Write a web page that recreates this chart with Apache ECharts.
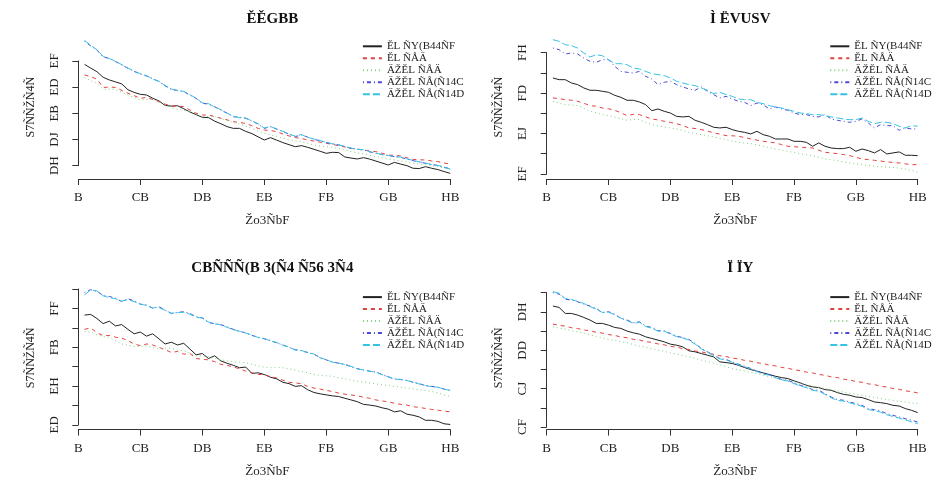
<!DOCTYPE html>
<html>
<head>
<meta charset="utf-8">
<script src="https://cdn.jsdelivr.net/npm/echarts@6/dist/echarts.min.js"></script>
<style>
  html, body { margin: 0; background: #fff; }
  #chart-container { width: 938px; height: 482px; }
</style>
</head>
<body>
<div id="chart-container"></div>
<script>
// text as it appears in the reference picture
const panelTitles = ['ĚĚGBB', 'Ì ËVUSV', 'CBÑÑÑ(B 3(Ñ4 Ñ56 3Ñ4', 'Ï ÏY'];
const legendNames = ['ĚL ÑY(B44ÑF', 'ĚL ÑÅÄ', 'ÄŽĚL ÑÅÄ', 'ÄŽĚL ÑÅ(Ñ14C', 'ÄŽĚL ÑÅ(Ñ14D'];
const xAxisTitle = 'Žo3ÑbF';
const yAxisTitle = 'S7ÑÑŽÑ4Ñ';

const xTickLabels = ['B', 'CB', 'DB', 'EB', 'FB', 'GB', 'HB'];
const p1TickLabels = ['DH', 'DJ', 'EB', 'ED', 'EF'];
const p2TickLabels = ['EF', '', 'EJ', '', 'FD', '', 'FH'];
const p3TickLabels = ['ED', '', 'EH', '', 'FB', '', 'FF', ''];
const p4TickLabels = ['CF', '', 'CJ', '', 'DD', '', 'DH', ''];

const horizons = [1, 2, 3, 4, 5, 6, 7, 8, 9, 10, 11, 12, 13, 14, 15, 16, 17, 18, 19, 20,
  21, 22, 23, 24, 25, 26, 27, 28, 29, 30, 31, 32, 33, 34, 35, 36, 37, 38, 39, 40,
  41, 42, 43, 44, 45, 46, 47, 48, 49, 50, 51, 52, 53, 54, 55, 56, 57, 58, 59, 60];

// panel 1
const p1Line1 = [33.74, 33.45, 33.18, 32.75, 32.55, 32.40, 32.25, 31.80, 31.60, 31.45,
  31.40, 31.15, 30.95, 30.60, 30.55, 30.58, 30.35, 30.10, 29.90, 29.69,
  29.67, 29.40, 29.20, 28.98, 28.85, 28.85, 28.62, 28.45, 28.20, 27.96,
  28.14, 27.95, 27.76, 27.60, 27.45, 27.53, 27.40, 27.25, 27.10, 26.94,
  27.02, 27.00, 26.66, 26.58, 26.51, 26.61, 26.50, 26.35, 26.20, 26.05,
  26.25, 26.12, 26.00, 25.80, 25.78, 25.92, 25.80, 25.70, 25.55, 25.41];
const p1Line2 = [32.93, 32.80, 32.60, 31.98, 32.00, 31.98, 31.75, 31.53, 31.35, 31.14,
  31.22, 31.05, 30.89, 30.70, 30.56, 30.55, 30.51, 30.25, 30.00, 29.87,
  29.87, 29.75, 29.62, 29.50, 29.36, 29.30, 29.23, 29.05, 28.85, 28.72,
  28.68, 28.60, 28.42, 28.27, 28.14, 28.08, 27.96, 27.88, 27.80, 27.71,
  27.62, 27.53, 27.42, 27.32, 27.26, 27.20, 27.12, 27.07, 26.95, 26.81,
  26.78, 26.74, 26.60, 26.48, 26.45, 26.43, 26.36, 26.31, 26.20, 26.13];
const p1Line3 = [32.75, 32.50, 32.29, 31.83, 31.85, 31.83, 31.60, 31.40, 31.20, 31.02,
  31.05, 31.07, 30.85, 30.63, 30.45, 30.30, 30.22, 30.13, 29.95, 29.74,
  29.76, 29.74, 29.60, 29.44, 29.30, 29.18, 29.02, 28.85, 28.65, 28.47,
  28.35, 28.22, 28.10, 27.96, 27.90, 27.83, 27.70, 27.58, 27.50, 27.45,
  27.40, 27.32, 27.20, 27.07, 26.98, 26.89, 26.80, 26.69, 26.60, 26.51,
  26.44, 26.36, 26.28, 26.18, 26.14, 26.10, 26.00, 25.92, 25.82, 25.72];
const p1Line4 = [35.50, 35.15, 34.84, 34.30, 34.20, 33.95, 33.70, 33.44, 33.20, 33.00,
  32.85, 32.65, 32.42, 32.10, 31.83, 31.75, 31.65, 31.40, 31.14, 30.76,
  30.71, 30.50, 30.25, 30.00, 29.74, 29.70, 29.62, 29.40, 29.18, 28.85,
  28.98, 28.80, 28.60, 28.40, 28.22, 28.35, 28.18, 28.01, 27.90, 27.76,
  27.68, 27.58, 27.45, 27.32, 27.26, 27.20, 27.05, 26.94, 26.85, 26.76,
  26.70, 26.64, 26.50, 26.38, 26.28, 26.18, 26.10, 26.00, 25.88, 25.76];
const p1Line5 = [35.58, 35.20, 34.86, 34.35, 34.18, 33.98, 33.72, 33.46, 33.22, 33.03,
  32.88, 32.62, 32.45, 32.12, 31.86, 31.72, 31.68, 31.42, 31.16, 30.80,
  30.74, 30.48, 30.28, 30.02, 29.78, 29.66, 29.64, 29.42, 29.20, 28.88,
  29.00, 28.78, 28.62, 28.42, 28.25, 28.38, 28.15, 28.04, 27.92, 27.78,
  27.66, 27.60, 27.47, 27.34, 27.24, 27.22, 27.08, 26.96, 26.84, 26.78,
  26.68, 26.66, 26.52, 26.40, 26.30, 26.20, 26.08, 26.02, 25.90, 25.74];

// panel 2
const p2Line1 = [43.50, 43.33, 43.33, 43.00, 42.84, 42.51, 42.28, 42.28, 42.18, 42.08,
  41.78, 41.58, 41.29, 41.29, 41.12, 40.86, 40.26, 40.43, 40.20, 40.03,
  39.70, 39.64, 39.70, 39.31, 39.11, 38.88, 38.62, 38.55, 38.62, 38.39,
  38.22, 38.12, 37.96, 38.22, 37.89, 37.73, 37.46, 37.46, 37.46, 37.23,
  37.23, 37.13, 36.74, 37.07, 36.74, 36.57, 36.51, 36.51, 36.64, 36.24,
  36.47, 36.31, 36.08, 36.41, 35.98, 36.08, 36.18, 35.85, 35.85, 35.81];
const p2Line2 = [41.52, 41.45, 41.35, 41.30, 41.19, 41.00, 40.76, 40.70, 40.53, 40.45,
  40.30, 40.05, 39.77, 39.90, 39.87, 39.65, 39.44, 39.35, 39.21, 39.10,
  38.98, 38.80, 38.55, 38.50, 38.39, 38.25, 38.06, 37.95, 37.79, 37.78,
  37.73, 37.60, 37.46, 37.35, 37.23, 37.15, 37.07, 36.90, 36.74, 36.70,
  36.64, 36.62, 36.57, 36.35, 36.14, 36.08, 36.01, 35.92, 35.81, 35.65,
  35.48, 35.42, 35.35, 35.28, 35.19, 35.14, 35.09, 35.00, 34.92, 34.92];
const p2Line3 = [41.19, 41.00, 40.86, 40.82, 40.76, 40.50, 40.20, 40.05, 39.87, 39.76,
  39.64, 39.48, 39.31, 39.40, 39.37, 39.12, 38.88, 38.76, 38.65, 38.55,
  38.45, 38.30, 38.12, 38.00, 37.89, 37.78, 37.66, 37.52, 37.40, 37.26,
  37.13, 37.06, 37.00, 36.88, 36.74, 36.60, 36.47, 36.35, 36.24, 36.12,
  36.01, 35.90, 35.81, 35.65, 35.48, 35.40, 35.32, 35.20, 35.09, 35.00,
  34.92, 34.84, 34.76, 34.72, 34.69, 34.64, 34.59, 34.48, 34.36, 34.16];
const p2Line4 = [46.46, 46.30, 45.87, 45.97, 45.87, 45.47, 45.14, 45.04, 45.31, 45.31,
  44.65, 44.15, 44.06, 43.99, 44.15, 43.66, 43.40, 42.84, 43.07, 43.17,
  42.84, 42.61, 42.41, 42.28, 42.61, 42.18, 41.85, 41.52, 41.68, 41.42,
  41.19, 41.09, 40.76, 41.02, 40.86, 40.43, 40.63, 40.43, 40.30, 40.03,
  39.87, 39.87, 39.70, 39.64, 39.87, 39.44, 39.31, 39.21, 39.11, 39.21,
  39.44, 39.04, 38.55, 38.88, 38.78, 38.78, 38.32, 38.55, 38.45, 38.45];
const p2Line5 = [47.29, 47.12, 46.79, 46.69, 46.46, 45.97, 45.57, 45.80, 45.70, 45.31,
  44.91, 44.91, 44.81, 44.48, 44.39, 44.15, 43.92, 43.83, 43.73, 43.50,
  43.17, 43.00, 42.84, 42.74, 42.51, 42.28, 41.95, 42.08, 41.85, 41.68,
  41.42, 41.35, 41.35, 41.09, 40.96, 40.76, 40.63, 40.53, 40.36, 40.20,
  40.03, 39.97, 39.87, 39.87, 39.77, 39.64, 39.54, 39.44, 39.37, 39.37,
  39.54, 39.21, 38.98, 39.11, 39.11, 38.98, 38.72, 38.55, 38.78, 38.72];

// panel 3
const p3Line1 = [43.31, 43.38, 42.96, 42.43, 42.68, 42.19, 42.33, 41.84, 41.38, 41.56,
  41.14, 41.38, 40.86, 40.33, 40.51, 40.23, 40.40, 39.81, 39.21, 39.35,
  38.83, 39.11, 38.58, 38.34, 38.13, 37.88, 37.95, 37.29, 37.36, 37.18,
  36.90, 36.73, 36.38, 36.24, 35.96, 36.03, 35.61, 35.33, 35.19, 35.08,
  34.98, 34.91, 34.73, 34.56, 34.38, 34.10, 34.03, 33.93, 33.75, 33.61,
  33.33, 33.44, 33.09, 32.98, 32.80, 32.46, 32.46, 32.35, 32.10, 32.03];
const p3Line2 = [41.84, 41.98, 41.49, 41.21, 41.21, 41.03, 40.93, 40.68, 40.33, 40.16,
  40.33, 40.23, 39.98, 39.74, 39.46, 39.56, 39.28, 39.35, 38.83, 38.76,
  38.69, 38.51, 38.23, 38.13, 37.95, 37.78, 37.53, 37.36, 37.18, 37.18,
  36.94, 36.83, 36.59, 36.38, 36.31, 36.24, 35.96, 35.78, 35.68, 35.54,
  35.43, 35.26, 35.15, 35.08, 34.98, 34.84, 34.73, 34.56, 34.45, 34.38,
  34.21, 34.10, 34.03, 33.86, 33.79, 33.68, 33.58, 33.51, 33.40, 33.33];
const p3Line3 = [41.63, 41.55, 41.28, 41.10, 41.03, 40.70, 40.33, 40.20, 40.09, 40.05,
  40.16, 39.95, 39.81, 39.90, 39.88, 39.70, 39.63, 39.40, 39.11, 39.10,
  39.04, 38.85, 38.69, 38.60, 38.48, 38.45, 38.41, 38.25, 38.06, 37.95,
  37.88, 37.90, 37.88, 37.75, 37.64, 37.50, 37.36, 37.20, 37.08, 37.05,
  37.00, 36.85, 36.73, 36.60, 36.48, 36.40, 36.31, 36.22, 36.13, 36.05,
  35.96, 35.88, 35.78, 35.70, 35.61, 35.52, 35.43, 35.28, 35.08, 34.91];
const p3Line4 = [45.65, 45.93, 45.76, 45.34, 45.23, 45.06, 44.71, 44.99, 44.78, 44.43,
  44.36, 44.01, 44.18, 43.83, 43.48, 43.59, 43.66, 43.48, 43.13, 43.03,
  42.54, 42.43, 42.33, 42.08, 41.84, 41.63, 41.49, 41.21, 41.03, 40.86,
  40.68, 40.44, 40.23, 39.98, 39.74, 39.63, 39.46, 39.28, 38.93, 38.69,
  38.48, 38.34, 38.23, 37.99, 37.78, 37.64, 37.53, 37.43, 37.18, 36.94,
  36.73, 36.66, 36.59, 36.38, 36.24, 36.03, 35.96, 35.85, 35.68, 35.54];
const p3Line5 = [45.40, 45.90, 45.80, 45.30, 45.10, 45.00, 44.75, 44.90, 44.70, 44.45,
  44.30, 44.05, 44.10, 43.80, 43.50, 43.55, 43.60, 43.40, 43.10, 43.00,
  42.60, 42.40, 42.30, 42.05, 41.80, 41.65, 41.45, 41.25, 41.00, 40.90,
  40.65, 40.48, 40.20, 40.00, 39.70, 39.66, 39.42, 39.30, 38.90, 38.72,
  38.45, 38.36, 38.20, 38.02, 37.75, 37.66, 37.50, 37.45, 37.15, 36.96,
  36.70, 36.68, 36.55, 36.40, 36.20, 36.05, 35.92, 35.88, 35.65, 35.56];

// panel 4
const p4Line1 = [26.61, 26.47, 25.84, 25.84, 25.67, 25.42, 25.15, 24.80, 24.80, 24.62,
  24.38, 24.28, 24.00, 23.82, 23.68, 23.40, 23.23, 23.06, 22.88, 22.64,
  22.53, 22.36, 21.94, 21.84, 21.66, 21.49, 21.31, 20.79, 20.72, 20.62,
  20.44, 20.20, 19.99, 19.82, 19.64, 19.47, 19.29, 19.15, 19.05, 18.81,
  18.60, 18.35, 18.18, 18.11, 17.90, 17.83, 17.59, 17.41, 17.31, 17.13,
  17.07, 16.86, 16.61, 16.54, 16.44, 16.26, 16.19, 15.92, 15.74, 15.50];
const p4Line2 = [24.73, 24.60, 24.52, 24.35, 24.27, 24.12, 24.03, 23.88, 23.79, 23.64,
  23.55, 23.38, 23.31, 23.14, 23.07, 22.90, 22.82, 22.66, 22.57, 22.41,
  22.33, 22.16, 22.09, 21.92, 21.84, 21.68, 21.59, 21.43, 21.35, 21.18,
  21.10, 20.95, 20.86, 20.70, 20.62, 20.45, 20.37, 20.21, 20.13, 19.96,
  19.88, 19.72, 19.64, 19.48, 19.39, 19.23, 19.15, 18.99, 18.90, 18.74,
  18.66, 18.50, 18.42, 18.25, 18.17, 18.01, 17.93, 17.77, 17.69, 17.55];
const p4Line3 = [24.45, 24.30, 24.20, 24.05, 23.93, 23.80, 23.62, 23.45, 23.30, 23.13,
  23.05, 22.90, 22.78, 22.60, 22.43, 22.32, 22.15, 22.02, 21.88, 21.73,
  21.60, 21.46, 21.32, 21.15, 20.97, 20.82, 20.65, 20.48, 20.30, 20.10,
  19.98, 19.84, 19.70, 19.55, 19.40, 19.25, 19.10, 18.96, 18.83, 18.70,
  18.55, 18.42, 18.28, 18.14, 18.00, 17.88, 17.76, 17.64, 17.52, 17.41,
  17.30, 17.18, 17.08, 16.96, 16.86, 16.78, 16.68, 16.60, 16.52, 16.44];
const p4Line4 = [28.00, 27.86, 27.31, 27.24, 27.06, 26.82, 26.61, 26.37, 25.91, 26.02,
  25.77, 25.32, 25.15, 24.87, 24.97, 24.52, 24.38, 24.03, 24.03, 23.75,
  23.47, 23.33, 23.13, 22.71, 22.19, 21.84, 21.49, 21.14, 21.04, 20.79,
  20.55, 20.34, 20.10, 19.85, 19.57, 19.47, 19.22, 18.95, 18.88, 18.60,
  18.35, 18.18, 17.90, 17.83, 17.48, 17.13, 16.86, 16.79, 16.61, 16.44,
  16.26, 15.92, 15.81, 15.67, 15.39, 15.22, 15.04, 14.87, 14.70, 14.52];
const p4Line5 = [28.11, 27.95, 27.40, 27.30, 27.10, 26.88, 26.55, 26.30, 25.95, 25.98,
  25.70, 25.35, 25.10, 24.80, 24.92, 24.48, 24.30, 24.00, 23.98, 23.70,
  23.42, 23.28, 23.05, 22.65, 22.15, 21.80, 21.45, 21.10, 21.00, 20.75,
  20.50, 20.28, 20.05, 19.78, 19.52, 19.40, 19.15, 18.90, 18.80, 18.52,
  18.28, 18.10, 17.82, 17.74, 17.40, 17.05, 16.78, 16.70, 16.52, 16.35,
  16.16, 15.82, 15.70, 15.55, 15.28, 15.10, 14.92, 14.74, 14.55, 14.35];

const panelLines = [
  [p1Line1, p1Line2, p1Line3, p1Line4, p1Line5],
  [p2Line1, p2Line2, p2Line3, p2Line4, p2Line5],
  [p3Line1, p3Line2, p3Line3, p3Line4, p3Line5],
  [p4Line1, p4Line2, p4Line3, p4Line4, p4Line5]
];
const panelTickLabels = [p1TickLabels, p2TickLabels, p3TickLabels, p4TickLabels];

const lineColors = ['#222222', '#e2423f', '#7fcf7f', '#4a4ad6', '#35c3e3'];
const lineTypes = ['solid', [4, 4], [1, 3], [1, 3, 4, 3], [7, 3]];

// plot regions (pixels) and axis ranges, R style (4% padding)
const X_LO = -1.36, X_HI = 62.36;
const layouts = [
  { L: 69.9, R: 464.9, T: 35.3, B: 179, ylo: 24.98, yhi: 35.96, ymin: 26, ymax: 34, titleTop: 7 },
  { L: 538.3, R: 932.3, T: 35.3, B: 179, ylo: 33.5, yhi: 47.72, ymin: 34, ymax: 46, titleTop: 7 },
  { L: 69.9, R: 464.9, T: 286.1, B: 429.6, ylo: 31.5, yhi: 46.3, ymin: 32, ymax: 46, titleTop: 256 },
  { L: 538.3, R: 932.3, T: 286.1, B: 429.6, ylo: 13.73, yhi: 28.69, ymin: 14, ymax: 28, titleTop: 256 }
];

const FONT = 'Liberation Serif';
const AXIS_COLOR = '#333';

const grids = [], xAxes = [], yAxes = [], series = [], titles = [], legends = [];

layouts.forEach(function (p, i) {
  const w = p.R - p.L, h = p.B - p.T;
  // data grid
  grids.push({ left: p.L, top: p.T, width: w, height: h, containLabel: false });
  // axis grid covering only the tick range
  const axLeft = p.L + (0 - X_LO) / (X_HI - X_LO) * w;
  const axWidth = 60 / (X_HI - X_LO) * w;
  const axTop = p.T + (p.yhi - p.ymax) / (p.yhi - p.ylo) * h;
  const axHeight = (p.ymax - p.ymin) / (p.yhi - p.ylo) * h;
  grids.push({ left: axLeft, top: axTop, width: axWidth, height: axHeight, containLabel: false });

  xAxes.push({
    gridIndex: 2 * i, type: 'value', min: X_LO, max: X_HI,
    axisLine: { show: false }, axisTick: { show: false }, axisLabel: { show: false }, splitLine: { show: false },
    name: xAxisTitle, nameLocation: 'middle', nameGap: 35,
    nameTextStyle: { fontFamily: FONT, fontSize: 13, color: '#222' }
  });
  xAxes.push({
    gridIndex: 2 * i + 1, type: 'value', min: 0, max: 60, interval: 10,
    offset: p.B - (axTop + axHeight),
    axisLine: { lineStyle: { color: AXIS_COLOR, width: 1 } },
    axisTick: { length: 6, lineStyle: { color: AXIS_COLOR } },
    axisLabel: {
      margin: 12, fontFamily: FONT, fontSize: 13, color: '#222',
      formatter: function (v) { return xTickLabels[Math.round(v / 10)]; }
    },
    splitLine: { show: false }
  });

  yAxes.push({
    gridIndex: 2 * i, type: 'value', min: p.ylo, max: p.yhi,
    axisLine: { show: false }, axisTick: { show: false }, axisLabel: { show: false }, splitLine: { show: false },
    name: yAxisTitle, nameLocation: 'middle', nameGap: 33,
    nameTextStyle: { fontFamily: FONT, fontSize: 12, color: '#222' }
  });
  const labels = panelTickLabels[i];
  yAxes.push({
    gridIndex: 2 * i + 1, type: 'value', min: p.ymin, max: p.ymax, interval: 2,
    offset: axLeft - p.L,
    axisLine: { lineStyle: { color: AXIS_COLOR, width: 1 } },
    axisTick: { length: 6, lineStyle: { color: AXIS_COLOR } },
    axisLabel: {
      rotate: 90, margin: 9, fontFamily: FONT, fontSize: 13, color: '#222',
      formatter: function (v) { return labels[Math.round((v - p.ymin) / 2)] || ''; }
    },
    splitLine: { show: false }
  });

  panelLines[i].forEach(function (vals, j) {
    series.push({
      name: legendNames[j], type: 'line', xAxisIndex: 2 * i, yAxisIndex: 2 * i,
      data: horizons.map(function (hz, k) { return [hz, vals[k]]; }),
      symbol: 'none', showSymbol: false, silent: true, animation: false,
      lineStyle: { color: lineColors[j], width: 1, type: lineTypes[j] },
      itemStyle: { color: lineColors[j] }
    });
  });

  titles.push({
    text: panelTitles[i], left: (p.L + p.R) / 2, top: p.titleTop, textAlign: 'center',
    textStyle: { fontFamily: FONT, fontSize: 15, fontWeight: 'bold', color: '#111' }
  });

  legends.push({
    data: legendNames, orient: 'vertical',
    left: p.R - 103, top: p.T + 5, padding: 0,
    itemWidth: 19, itemHeight: 8, itemGap: 0,
    itemStyle: { opacity: 0 },
    textStyle: { fontFamily: FONT, fontSize: 11, color: '#222', lineHeight: 12 },
    selectedMode: false
  });
});

const myChart = echarts.init(document.getElementById('chart-container'));
myChart.setOption({
  animation: false,
  backgroundColor: '#fff',
  title: titles,
  legend: legends,
  grid: grids,
  xAxis: xAxes,
  yAxis: yAxes,
  series: series
});
</script>
</body>
</html>
